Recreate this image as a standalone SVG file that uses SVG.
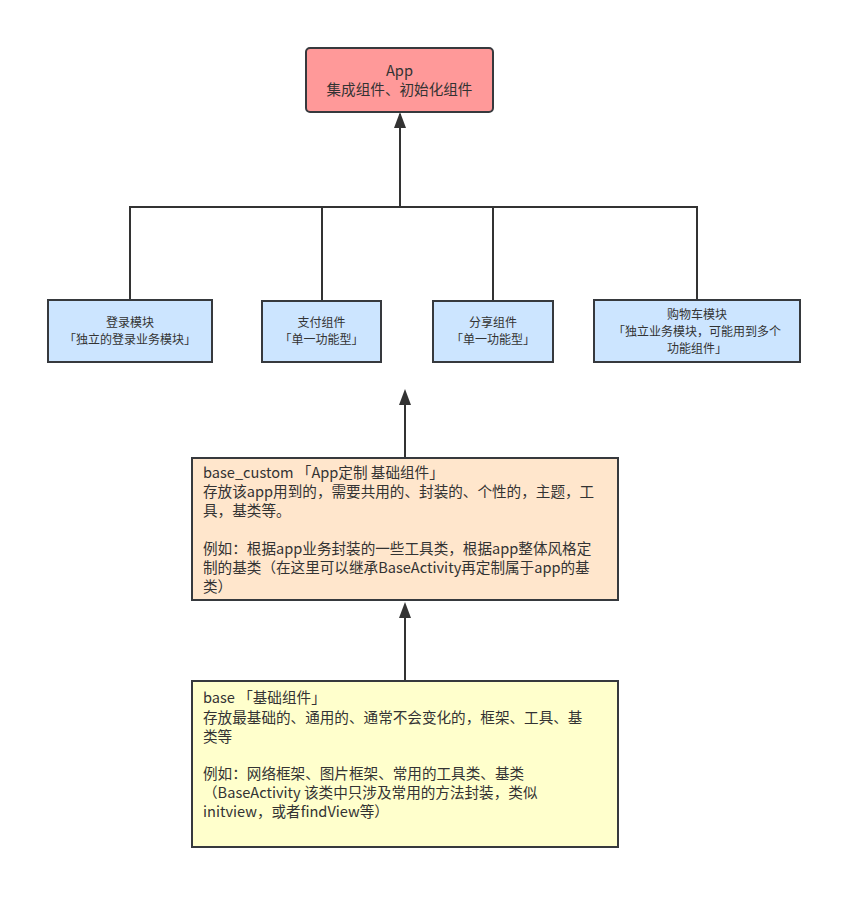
<svg xmlns="http://www.w3.org/2000/svg" width="862" height="909" viewBox="0 0 862 909">
<defs>
<style>
.box{stroke:#36393d;stroke-width:2}
.t{font-family:"Noto Sans CJK SC","Liberation Sans",sans-serif;fill:#333333}
.m{font-size:12px;text-anchor:middle}
.b{font-size:14.6px}
.edge{fill:none;stroke:#333333;stroke-width:2}
.head{fill:#333333}
</style>
</defs>
<rect width="862" height="909" fill="#ffffff"/>
<g id="connectors">
<path class="edge" d="M130 300 V207 H697 V300"/>
<path class="edge" d="M322 301 V207"/>
<path class="edge" d="M493 301 V207"/>
<line class="edge" x1="400" y1="207" x2="400" y2="114"/>
<polygon class="head" points="400,112 394,128 406,128"/>
<line class="edge" x1="405" y1="457" x2="405" y2="400"/>
<polygon class="head" points="405,389 399,405 411,405"/>
<line class="edge" x1="405" y1="681" x2="405" y2="612"/>
<polygon class="head" points="405,602 399,618 411,618"/>
</g>
<g id="app">
<rect class="box" x="306" y="48" width="187" height="64" rx="4" fill="#ff9999"/>
<text class="t" x="399.5" y="76" font-size="14.6" text-anchor="middle">App</text>
<text class="t" x="399.5" y="95" font-size="14.6" text-anchor="middle">集成组件、初始化组件</text>
</g>
<g id="login">
<rect class="box" x="48" y="300" width="164" height="62" fill="#cce5ff"/>
<text class="t m" x="130" y="327">登录模块</text>
<text class="t m" x="130" y="344">「独立的登录业务模块」</text>
</g>
<g id="pay">
<rect class="box" x="262" y="301" width="119" height="61" fill="#cce5ff"/>
<text class="t m" x="321.5" y="327">支付组件</text>
<text class="t m" x="321.5" y="344">「单一功能型」</text>
</g>
<g id="share">
<rect class="box" x="433" y="301" width="120" height="61" fill="#cce5ff"/>
<text class="t m" x="493" y="327">分享组件</text>
<text class="t m" x="493" y="344">「单一功能型」</text>
</g>
<g id="cart">
<rect class="box" x="594" y="300" width="206" height="62" fill="#cce5ff"/>
<text class="t m" x="697" y="319">购物车模块</text>
<text class="t m" x="697" y="336">「独立业务模块，可能用到多个</text>
<text class="t m" x="697" y="353">功能组件」</text>
</g>
<g id="base_custom">
<rect class="box" x="192" y="458" width="426" height="142" fill="#ffe6cc"/>
<text class="t b" x="203" y="478">base_custom 「App定制 基础组件」</text>
<text class="t b" x="203" y="497">存放该app用到的，需要共用的、封装的、个性的，主题，工</text>
<text class="t b" x="203" y="516">具，基类等。</text>
<text class="t b" x="203" y="554">例如：根据app业务封装的一些工具类，根据app整体风格定</text>
<text class="t b" x="203" y="573">制的基类（在这里可以继承BaseActivity再定制属于app的基</text>
<text class="t b" x="203" y="592">类）</text>
</g>
<g id="base">
<rect class="box" x="192" y="681" width="426" height="166" fill="#ffffcc"/>
<text class="t b" x="203" y="703">base 「基础组件」</text>
<text class="t b" x="203" y="723">存放最基础的、通用的、通常不会变化的，框架、工具、基</text>
<text class="t b" x="203" y="742">类等</text>
<text class="t b" x="203" y="779">例如：网络框架、图片框架、常用的工具类、基类</text>
<text class="t b" x="203" y="798">（BaseActivity 该类中只涉及常用的方法封装，类似</text>
<text class="t b" x="203" y="817">initview，或者findView等）</text>
</g>
</svg>
